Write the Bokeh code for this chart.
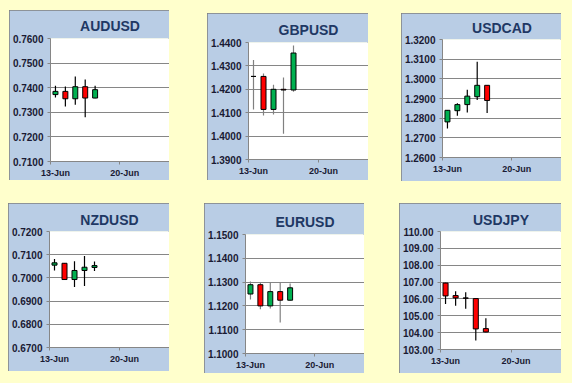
import pandas as pd
from bokeh.plotting import figure
from bokeh.layouts import row, column
from bokeh.models import (Range1d, FixedTicker, PrintfTickFormatter,
                          DatetimeTickFormatter, ColumnDataSource, Spacer)
from bokeh.embed import file_html
from bokeh.resources import INLINE

# ---------------- data ----------------
DATES = ["2016-06-13", "2016-06-14", "2016-06-15", "2016-06-16", "2016-06-17"]
X_TICK_DATES = ["2016-06-13", "2016-06-20"]
X_START = "2016-06-13"
X_END = "2016-06-25"

AUDUSD_OPEN = [0.7372, 0.7385, 0.7355, 0.7404, 0.7358]
AUDUSD_HIGH = [0.7408, 0.7405, 0.7446, 0.7433, 0.7408]
AUDUSD_LOW = [0.7360, 0.7324, 0.7331, 0.7280, 0.7357]
AUDUSD_CLOSE = [0.7385, 0.7355, 0.7404, 0.7358, 0.7392]

GBPUSD_OPEN = [1.4255, 1.4255, 1.4114, 1.4200, 1.4197]
GBPUSD_HIGH = [1.4325, 1.4268, 1.4219, 1.4250, 1.4387]
GBPUSD_LOW = [1.4114, 1.4088, 1.4092, 1.4010, 1.4190]
GBPUSD_CLOSE = [1.4255, 1.4114, 1.4200, 1.4197, 1.4355]

USDCAD_OPEN = [1.2781, 1.2838, 1.2869, 1.2909, 1.2967]
USDCAD_HIGH = [1.2842, 1.2876, 1.2944, 1.3087, 1.2968]
USDCAD_LOW = [1.2748, 1.2812, 1.2829, 1.2893, 1.2826]
USDCAD_CLOSE = [1.2840, 1.2869, 1.2912, 1.2967, 1.2890]

NZDUSD_OPEN = [0.7055, 0.7063, 0.6993, 0.7032, 0.7045]
NZDUSD_HIGH = [0.7082, 0.7064, 0.7072, 0.7094, 0.7071]
NZDUSD_LOW = [0.7032, 0.6992, 0.6961, 0.6965, 0.7030]
NZDUSD_CLOSE = [0.7065, 0.6993, 0.7032, 0.7046, 0.7053]

EURUSD_OPEN = [1.1250, 1.1289, 1.1200, 1.1260, 1.1224]
EURUSD_HIGH = [1.1303, 1.1296, 1.1300, 1.1299, 1.1294]
EURUSD_LOW = [1.1227, 1.1186, 1.1189, 1.1130, 1.1222]
EURUSD_CLOSE = [1.1289, 1.1200, 1.1260, 1.1224, 1.1276]

USDJPY_OPEN = [106.94, 106.20, 106.06, 106.02, 104.24]
USDJPY_HIGH = [106.96, 106.46, 106.40, 106.04, 104.86]
USDJPY_LOW = [105.70, 105.60, 105.42, 103.53, 104.03]
USDJPY_CLOSE = [106.18, 106.06, 106.04, 104.22, 104.04]

# y axis: (min, max, step, decimals)
AUDUSD_AXIS = (0.71, 0.76, 0.01, 4)
GBPUSD_AXIS = (1.39, 1.44, 0.01, 4)
USDCAD_AXIS = (1.26, 1.32, 0.01, 4)
NZDUSD_AXIS = (0.67, 0.72, 0.01, 4)
EURUSD_AXIS = (1.10, 1.15, 0.01, 4)
USDJPY_AXIS = (103.0, 110.0, 1.0, 2)

# ---------------- style ----------------
YELLOW = "#FFFFCC"
PANEL = "#B9CDE5"
GRID = "#868686"
TITLE_C = "#1F3864"
LABEL_C = "#1A1A33"
UP = "#00B050"
DOWN = "#FF0000"
FONT = "Liberation Sans"

DAY_MS = 86400000


def ms(s):
    return pd.Timestamp(s).value // 10**6


def make_panel(name, o, h, l, c, axis, w, ht, ml, mt, mb, ts, wick):
    lo, hi, step, dec = axis
    n = int(round((hi - lo) / step))
    yticks = [round(lo + i * step, 4) for i in range(n + 1)]
    xs = [ms(d) + DAY_MS / 2 for d in DATES]
    src = ColumnDataSource(dict(
        x=xs, o=o, h=h, l=l, c=c,
        top=[max(a, b) for a, b in zip(o, c)],
        bot=[min(a, b) for a, b in zip(o, c)],
        col=[UP if b > a else DOWN for a, b in zip(o, c)],
    ))
    p = figure(width=w, height=ht, x_axis_type="datetime",
               x_range=Range1d(ms(X_START), ms(X_END)),
               y_range=Range1d(lo, hi),
               output_backend="svg", toolbar_location=None,
               min_border_left=ml, min_border_right=0,
               min_border_top=mt, min_border_bottom=mb,
               background_fill_color="white", border_fill_color=PANEL,
               outline_line_color=None, title=name)
    p.styles = {"outline": "1px solid #7F7F7F", "outline-offset": "-1px"}
    p.title.align = "center"
    p.title.text_font = FONT
    p.title.text_font_size = "14px"
    p.title.text_font_style = "bold"
    p.title.text_color = TITLE_C
    p.title.standoff = ts

    p.xgrid.visible = False
    p.ygrid.grid_line_color = GRID
    p.ygrid.grid_line_width = 1

    ya = p.yaxis[0]
    ya.ticker = FixedTicker(ticks=yticks)
    ya.formatter = PrintfTickFormatter(format="%." + str(dec) + "f")
    ya.axis_line_color = GRID
    ya.major_tick_line_color = GRID
    ya.major_tick_out = 3
    ya.major_tick_in = 0
    ya.minor_tick_line_color = None
    ya.major_label_standoff = 4
    ya.major_label_text_font = FONT
    ya.major_label_text_font_size = "10px"
    ya.major_label_text_font_style = "bold"
    ya.major_label_text_color = LABEL_C

    xa = p.xaxis[0]
    xa.ticker = FixedTicker(ticks=[ms(d) + DAY_MS / 2 for d in X_TICK_DATES],
                            minor_ticks=[ms(d) for d in X_TICK_DATES])
    xa.formatter = DatetimeTickFormatter(days="%d-%b", hours="%d-%b",
                                         months="%d-%b", hourmin="%d-%b")
    xa.axis_line_color = GRID
    xa.major_tick_line_color = None
    xa.minor_tick_line_color = GRID
    xa.minor_tick_out = 3
    xa.minor_tick_in = 0
    xa.major_label_standoff = 0
    xa.major_label_text_font = FONT
    xa.major_label_text_font_size = "9px"
    xa.major_label_text_font_style = "bold"
    xa.major_label_text_color = LABEL_C

    p.segment(x0="x", y0="l", x1="x", y1="h", source=src,
              line_color=wick, line_width=1.2)
    p.vbar(x="x", width=DAY_MS * 0.5, top="top", bottom="bot", source=src,
           fill_color="col", line_color="black", line_width=1)
    return p


p1 = make_panel("AUDUSD", AUDUSD_OPEN, AUDUSD_HIGH, AUDUSD_LOW, AUDUSD_CLOSE,
                AUDUSD_AXIS, 160, 170, 40, 28, 18, 10, "black")
p2 = make_panel("GBPUSD", GBPUSD_OPEN, GBPUSD_HIGH, GBPUSD_LOW, GBPUSD_CLOSE,
                GBPUSD_AXIS, 161, 167, 41, 29, 21, 9, "#808080")
p3 = make_panel("USDCAD", USDCAD_OPEN, USDCAD_HIGH, USDCAD_LOW, USDCAD_CLOSE,
                USDCAD_AXIS, 160, 168, 40, 26, 24, 8, "black")
p4 = make_panel("NZDUSD", NZDUSD_OPEN, NZDUSD_HIGH, NZDUSD_LOW, NZDUSD_CLOSE,
                NZDUSD_AXIS, 161, 168, 41, 28, 24, 7, "black")
p5 = make_panel("EURUSD", EURUSD_OPEN, EURUSD_HIGH, EURUSD_LOW, EURUSD_CLOSE,
                EURUSD_AXIS, 160, 170, 41, 31, 20, 10, "#808080")
p6 = make_panel("USDJPY", USDJPY_OPEN, USDJPY_HIGH, USDJPY_LOW, USDJPY_CLOSE,
                USDJPY_AXIS, 162, 170, 40, 28, 24, 8, "black")

r1 = row(Spacer(width=9),
         column(Spacer(height=10), p1),
         Spacer(width=38),
         column(Spacer(height=13), p2),
         Spacer(width=33),
         column(Spacer(height=13), p3))
r2 = row(Spacer(width=8),
         column(Spacer(height=22), p4),
         Spacer(width=35),
         column(Spacer(height=22), p5),
         Spacer(width=35),
         column(Spacer(height=22), p6))
layout = column(r1, r2, width=572, height=383,
                styles={"background-color": YELLOW})

open("out.html", "w").write(file_html(layout, INLINE))
